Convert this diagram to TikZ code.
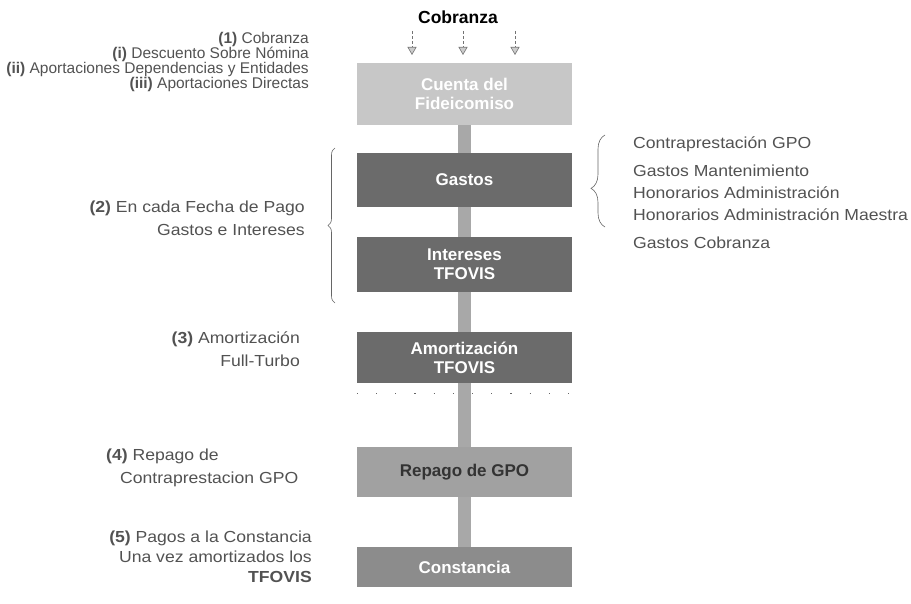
\documentclass[tikz,border=0pt]{standalone}
\usepackage{fontspec}
\setmainfont{Liberation Sans}
\newfontfamily\ancha[FakeStretch=1.1]{Liberation Sans}
\usetikzlibrary{arrows.meta}
\usetikzlibrary{decorations.pathreplacing}
\definecolor{grisclaro}{gray}{0.78}
\definecolor{grisoscuro}{gray}{0.42}
\definecolor{grismedio}{gray}{0.63}
\definecolor{grisconst}{gray}{0.55}
\definecolor{gristronco}{gray}{0.66}
\definecolor{gristexto}{gray}{0.32}
\tikzset{
  caja/.style={minimum width=215pt, minimum height=#1, inner sep=0pt, align=center,
    font=\fontsize{17}{19}\selectfont\bfseries, text=white},
  nota/.style={font=\ancha\fontsize{16}{23}\selectfont, text=gristexto, inner sep=0pt},
  flecha/.style={densely dashed, draw=black!55, line width=0.6pt,
    -{Triangle[length=8pt,width=9pt,fill=black!20]}},
  llave/.style={draw=black!60, line width=0.6pt, decorate,
    decoration={brace,amplitude=#1}},
  tronco/.style={fill=gristronco}
}

\begin{document}
\begin{tikzpicture}[x=1pt,y=-1pt]
    \useasboundingbox (0,0) rectangle (911,604);
    \node [font=\fontsize{17.5}{19}\selectfont\bfseries] (titulo) at (458,17) {Cobranza};
    \node [caja=62pt, fill=grisclaro] (cuenta) at (464.5,94) {Cuenta del\\Fideicomiso};
    \node [caja=54pt, fill=grisoscuro] (gastos) at (464.5,180) {Gastos};
    \node [caja=55pt, fill=grisoscuro] (intereses) at (464.5,264.5) {Intereses\\TFOVIS};
    \node [caja=51pt, fill=grisoscuro] (amort) at (464.5,357.5) {Amortización\\TFOVIS};
    \node [caja=50pt, fill=grismedio, text=black!80] (repago) at (464.5,472) {Repago de GPO};
    \node [caja=40pt, fill=grisconst] (constancia) at (464.5,567) {Constancia};
    \foreach \a/\b in {cuenta/gastos,gastos/intereses,intereses/amort,amort/repago,repago/constancia}
        \fill [tronco] ([xshift=-7pt]\a.south) rectangle ([xshift=6pt]\b.north);
    \foreach \i/\x in {1/412,2/463,3/515} {
        \coordinate (ini\i) at (\x,31);
        \coordinate (fin\i) at (\x,55);
        \draw [flecha] (ini\i) -- (fin\i);
    }
    \draw [black!60, line width=1.2pt, dash pattern=on 1.2pt off 18pt]
        ([yshift=-10pt]amort.south west) -- ([yshift=-10pt]amort.south east);

    \node [nota, anchor=east, align=right, font=\fontsize{15.5}{15}\selectfont] (paso1) at (309,62)
        {\textbf{(1)} Cobranza\\\textbf{(i)} Descuento Sobre Nómina\\
         \textbf{(ii)} Aportaciones Dependencias y Entidades\\\textbf{(iii)} Aportaciones Directas};
    \node [nota, anchor=east, align=right] (paso2) at (305,218.5)
        {\textbf{(2)} En cada Fecha de Pago\\Gastos e Intereses};
    \node [nota, anchor=east, align=right] (paso3) at (300,349.5)
        {\textbf{(3)} Amortización\\Full-Turbo};
    \node [nota, anchor=west, align=left] (paso4) at (106,467.5)
        {\textbf{(4)} Repago de\\\hspace*{14pt}Contraprestacion GPO};
    \node [nota, anchor=east, align=right, font=\ancha\fontsize{16}{20}\selectfont] (paso5) at (312,557)
        {\textbf{(5)} Pagos a la Constancia\\Una vez amortizados los\\\textbf{TFOVIS}};
    \node [nota, anchor=west, align=left, font=\ancha\fontsize{16}{22}\selectfont] (conceptos) at (633,192.5)
        {Contraprestación GPO\\[6pt]Gastos Mantenimiento\\Honorarios Administración\\
         Honorarios Administración Maestra\\[6pt]Gastos Cobranza};

    \coordinate (izqabajo) at (335,303);
    \coordinate (izqarriba) at (335,148);
    \draw [llave=7pt] (izqabajo) -- (izqarriba);
    \coordinate (derabajo) at (605,227);
    \coordinate (derarriba) at (605,135);
    \draw [llave=14pt, decoration={aspect=0.42}] (derabajo) -- (derarriba);
\end{tikzpicture}
\end{document}
